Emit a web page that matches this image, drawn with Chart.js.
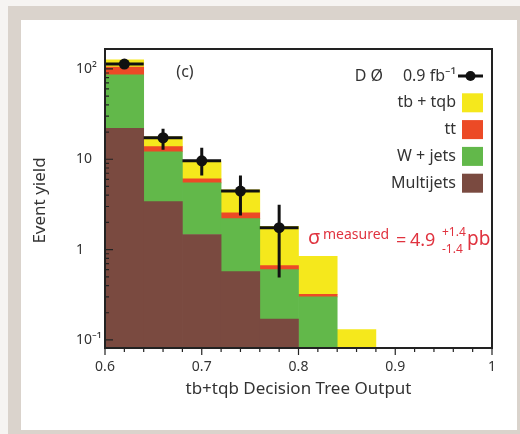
<!DOCTYPE html>
<html>
<head>
<meta charset="utf-8">
<script src="https://cdn.jsdelivr.net/npm/chart.js@4.4.0/dist/chart.umd.min.js"></script>
<style>
  html, body { margin: 0; padding: 0; }
  body { width: 520px; height: 434px; background: #f6f4f2; position: relative; overflow: hidden; }
  .frame { position: absolute; left: 8px; top: 6px; width: 512px; height: 428px; background: #dad3cc; }
  .panel { position: absolute; left: 21px; top: 20px; width: 496px; height: 410px; background: #fff; }
  canvas { display: block; }
</style>
</head>
<body>
<div class="frame"></div>
<div class="panel"><canvas id="chart" width="496" height="410"></canvas></div>
<script>
// bin centres of the decision tree output histogram (bin width 0.04)
const binCenters = [0.62, 0.66, 0.70, 0.74, 0.78, 0.82, 0.86];
const binHalfWidth = 0.02;

// stacked predictions, bottom to top
const multijets = [22, 3.4, 1.47, 0.57, 0.17, 0, 0];
const wjets     = [64, 8.7, 4.0, 1.63, 0.43, 0.30, 0.05];
const ttbar     = [19, 1.7, 0.6, 0.36, 0.065, 0.02, 0.005];
const tbtqb     = [21, 3.9, 3.3, 2.04, 1.15, 0.52, 0.075];

// observed data with error bars
const dataX    = [0.62, 0.66, 0.70, 0.74, 0.78];
const dataY    = [113, 17.3, 9.6, 4.45, 1.75];
const dataLow  = [103, 12.7, 6.6, 2.38, 0.49];
const dataHigh = [124, 21.7, 13.4, 6.6, 3.14];

const xTicks = [0.6, 0.7, 0.8, 0.9, 1.0];
const xTickLabels = ['0.6', '0.7', '0.8', '0.9', '1'];
const yTicks = [0.1, 1, 10, 100];
const yTickLabels = ['10\u207B\u00B9', '1', '10', '10\u00B2'];

const FONT = "'Noto Sans', 'DejaVu Sans', sans-serif";
const TEXT = '#333333';
const RED = '#e0333f';

function points(xs, ys) {
    return xs.map((x, i) => ({ x: x, y: ys[i] }));
}

function label(ctx, text, size, x, y) {
    ctx.font = size + 'px ' + FONT;
    ctx.fillText(text, x, y);
}

const decorations = {
    id: 'decorations',
    afterDatasetsDraw(chart) {
        const { ctx, chartArea: a, scales: { x, y } } = chart;
        ctx.save();

        // error bars on the data points
        ctx.strokeStyle = '#111';
        ctx.lineWidth = 3;
        dataX.forEach((v, i) => {
            const px = x.getPixelForValue(v);
            const py = y.getPixelForValue(dataY[i]);
            ctx.beginPath();
            ctx.moveTo(px, y.getPixelForValue(dataLow[i]));
            ctx.lineTo(px, y.getPixelForValue(dataHigh[i]));
            ctx.moveTo(x.getPixelForValue(v - binHalfWidth), py);
            ctx.lineTo(x.getPixelForValue(v + binHalfWidth), py);
            ctx.stroke();
        });

        // frame
        ctx.strokeStyle = '#222';
        ctx.lineWidth = 2;
        ctx.strokeRect(a.left, a.top, a.right - a.left, a.bottom - a.top);

        // tick marks
        ctx.lineWidth = 1.2;
        ctx.beginPath();
        for (let k = 0; k <= 20; k++) {
            const px = x.getPixelForValue(0.6 + k * 0.02);
            const len = k % 5 === 0 ? 7 : 4;
            ctx.moveTo(px, a.bottom);
            ctx.lineTo(px, a.bottom + len);
        }
        [0.1, 1, 10, 100].forEach(dec => {
            for (let m = 1; m <= 9; m++) {
                const v = dec * m;
                if (v < y.min || v > y.max) continue;
                const py = y.getPixelForValue(v);
                ctx.moveTo(a.left, py);
                ctx.lineTo(a.left + (m === 1 ? 8 : 4), py);
            }
        });
        ctx.stroke();

        // legend
        const rowX = a.left + 351;
        const boxX = a.left + 357;
        const rowY = a.top + 27;
        const step = 26.8;
        ctx.fillStyle = TEXT;
        ctx.textAlign = 'right';
        ctx.textBaseline = 'middle';
        label(ctx, 'D \u00D8', 16, a.left + 278, rowY);
        label(ctx, '0.9 fb\u207B\u00B9', 16, rowX, rowY);
        ctx.strokeStyle = '#111';
        ctx.lineWidth = 3;
        ctx.beginPath();
        ctx.moveTo(boxX - 4, rowY);
        ctx.lineTo(boxX + 21, rowY);
        ctx.stroke();
        ctx.beginPath();
        ctx.fillStyle = '#111';
        ctx.arc(boxX + 8.5, rowY, 5, 0, Math.PI * 2);
        ctx.fill();

        const stacks = chart.data.datasets.filter(d => d.type === 'bar').reverse();
        stacks.forEach((d, i) => {
            const ry = rowY + step * (i + 1);
            ctx.fillStyle = TEXT;
            label(ctx, d.label, 16, rowX, ry);
            ctx.fillStyle = d.backgroundColor;
            ctx.fillRect(boxX, ry - 9.5, 21, 19);
        });

        // panel label
        ctx.fillStyle = TEXT;
        ctx.textAlign = 'center';
        label(ctx, '(c)', 16, a.left + 80, a.top + 23);

        // cross section annotation
        ctx.fillStyle = RED;
        ctx.textAlign = 'left';
        label(ctx, '\u03C3', 20, a.left + 203, a.top + 189);
        label(ctx, 'measured', 14, a.left + 218, a.top + 186);
        label(ctx, '=', 18, a.left + 291, a.top + 192);
        label(ctx, '4.9', 18, a.left + 305, a.top + 192);
        label(ctx, '+1.4', 12, a.left + 337, a.top + 184);
        label(ctx, '-1.4', 12, a.left + 337, a.top + 201);
        label(ctx, 'pb', 19, a.left + 362, a.top + 191);

        // y axis title
        ctx.fillStyle = TEXT;
        ctx.textAlign = 'center';
        ctx.translate(19, (a.top + a.bottom) / 2 + 2);
        ctx.rotate(-Math.PI / 2);
        label(ctx, 'Event yield', 17, 0, 0);

        ctx.restore();
    }
};

new Chart(document.getElementById('chart'), {
    type: 'bar',
    data: {
        datasets: [
            {
                type: 'scatter',
                label: 'D\u00D8 data',
                data: points(dataX, dataY),
                stack: 'observed',
                pointRadius: 5.5,
                pointBackgroundColor: '#111',
                pointBorderWidth: 0
            },
            { type: 'bar', label: 'Multijets', data: points(binCenters, multijets), backgroundColor: '#7a4a40', stack: 'model' },
            { type: 'bar', label: 'W + jets', data: points(binCenters, wjets), backgroundColor: '#62b84a', stack: 'model' },
            { type: 'bar', label: 'tt', data: points(binCenters, ttbar), backgroundColor: '#ec4a26', stack: 'model' },
            { type: 'bar', label: 'tb + tqb', data: points(binCenters, tbtqb), backgroundColor: '#f5e81c', stack: 'model' }
        ]
    },
    options: {
        responsive: false,
        animation: false,
        events: [],
        layout: { padding: { left: 55, top: 29, right: 25, bottom: 0 } },
        datasets: { bar: { barPercentage: 1, categoryPercentage: 1, borderWidth: 0 } },
        plugins: { legend: { display: false }, tooltip: { enabled: false } },
        scales: {
            x: {
                type: 'linear',
                min: 0.6,
                max: 1.0,
                offset: false,
                stacked: true,
                grid: { display: false, drawTicks: false, offset: false },
                border: { display: false },
                afterBuildTicks: s => { s.ticks = xTicks.map(v => ({ value: v })); },
                afterFit: s => { s.height = 82; },
                ticks: {
                    padding: 11,
                    color: TEXT,
                    font: { family: FONT, size: 14 },
                    callback: (v, i) => xTickLabels[i]
                },
                title: {
                    display: true,
                    text: 'tb+tqb Decision Tree Output',
                    color: TEXT,
                    font: { family: FONT, size: 17 },
                    padding: { top: 0, bottom: 31 }
                }
            },
            y: {
                type: 'logarithmic',
                min: 0.0815,
                max: 166,
                stacked: true,
                grid: { display: false, drawTicks: false },
                border: { display: false },
                afterBuildTicks: s => { s.ticks = yTicks.map(v => ({ value: v })); },
                afterFit: s => { s.width = 29; },
                ticks: {
                    crossAlign: 'far',
                    color: TEXT,
                    font: { family: FONT, size: 14 },
                    callback: (v, i) => yTickLabels[i]
                }
            }
        }
    },
    plugins: [decorations]
});
</script>
</body>
</html>
